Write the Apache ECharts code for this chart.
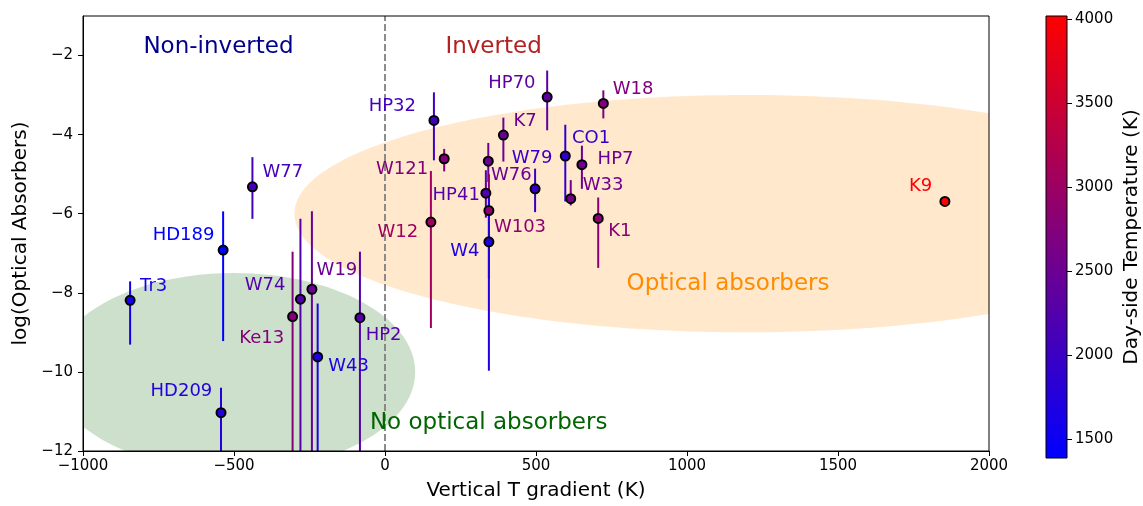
<!DOCTYPE html>
<html>
<head>
<meta charset="utf-8">
<script src="https://cdn.jsdelivr.net/npm/echarts@6/dist/echarts.min.js"></script>
<style>
html,body{margin:0;padding:0;background:#fff;}
#chart{width:1143px;height:506px;}
</style>
</head>
<body>
<div id="chart"></div>
<script>
// ---- data ----
const planetNames = ['Tr3','HD189','HD209','W77','W74','W19','Ke13','W43','HP2','HP32','W121','W12','K7','HP70','W18','W76','HP41','W103','W4','W79','CO1','HP7','W33','K1','K9'];
const tGradient   = [-844,-536,-543,-439,-280,-242,-306,-223,-83,162,196,152,392,537,723,342,334,344,344,497,597,652,615,706,1854];
const logAbsorb   = [-8.19,-6.92,-11.03,-5.32,-8.16,-7.91,-8.60,-9.62,-8.63,-3.64,-4.61,-6.21,-4.01,-3.05,-3.21,-4.67,-5.48,-5.92,-6.71,-5.37,-4.54,-4.76,-5.62,-6.12,-5.69];
const errLower    = [-9.31,-9.22,-12.6,-6.13,-13,-13,-13,-13,-13,-4.65,-4.93,-8.89,-4.68,-3.89,-3.59,-5.20,-6.10,-7.64,-9.97,-5.96,-5.69,-5.37,-5.79,-7.37,-5.69];
const errUpper    = [-7.71,-5.94,-10.40,-4.57,-6.13,-5.94,-6.96,-8.27,-6.96,-2.93,-4.36,-4.92,-3.57,-2.38,-2.88,-4.21,-4.90,-5.00,-5.60,-4.86,-3.75,-4.28,-5.15,-5.59,-5.69];
const dayTemp     = [1600,1387,1750,2100,2250,2500,2750,1700,2250,2050,2750,3050,2500,2360,2720,2500,2250,2850,1700,1950,1900,2500,2560,2820,4018];

const regionTexts = ['Non-inverted','Inverted','No optical absorbers','Optical absorbers'];
const regionX     = [-800, 200, -50, 800];
const regionY     = [-2, -2, -11.5, -8];

const regionNames = ['Optical absorbers region','No optical absorbers region'];
const ellipseCX   = [1200, -500];
const ellipseCY   = [-6, -10];
const ellipseW    = [3000, 1200];
const ellipseH    = [6, 5];

const zeroLineX = [0];

const xTicks = [-1000, -500, 0, 500, 1000, 1500, 2000];
const yTicks = [-12, -10, -8, -6, -4, -2];
const cbTicks = [1500, 2000, 2500, 3000, 3500, 4000];

// ---- styling / layout (not data) ----
const FONT = 'DejaVu Sans, sans-serif';
const regionColors = ['#00008b', '#b22222', '#006400', '#ff8c00'];
const ellipseFill = ['rgba(255,140,0,0.2)', 'rgba(0,100,0,0.2)'];
// label placement: [align, dx, dy]
const labelPlace = {
  Tr3:['left',10,-14.4], HD189:['right',-8.7,-14.7], HD209:['right',-8.7,-21.7],
  W77:['left',10,-14.1], W74:['right',-15,-13.7], W19:['left',4.7,-18.7],
  Ke13:['right',-8.4,21.9], W43:['left',10.6,9.6], HP2:['left',5.7,17.9],
  HP32:['right',-18,-14.1], W121:['right',-16,10.2], W12:['right',-12.7,9.9],
  K7:['left',10,-14.1], HP70:['right',-11.6,-13.7], W18:['left',9.4,-13.8],
  W76:['left',2.7,14.6], HP41:['right',-6,1.9], W103:['left',5,17],
  W4:['right',-9.4,9.3], W79:['center',-3,-30.1], CO1:['left',6.7,-18.1],
  HP7:['left',15.7,-5.8], W33:['left',12,-13.7], K1:['left',10,13],
  K9:['right',-12.7,-14.7]
};

const tMin = Math.min.apply(null, dayTemp);
const tMax = Math.max.apply(null, dayTemp);
const minus = v => String(v).replace('-', '\u2212');

const scatterData = planetNames.map((n, i) => {
  const p = labelPlace[n];
  return {
    name: n,
    value: [tGradient[i], logAbsorb[i], dayTemp[i]],
    label: { align: p[0], offset: [p[1], p[2]] }
  };
});
const errData = planetNames.map((n, i) => [tGradient[i], logAbsorb[i], dayTemp[i], errLower[i], errUpper[i]]);
const ellipseData = regionNames.map((n, i) => [ellipseCX[i], ellipseCY[i], ellipseW[i], ellipseH[i]]);
const textData = regionTexts.map((t, i) => [regionX[i], regionY[i]]);

const chart = echarts.init(document.getElementById('chart'), null, { renderer: 'canvas' });
chart.setOption({
  animation: false,
  backgroundColor: '#fff',
  textStyle: { fontFamily: FONT },
  grid: [
    { left: 83, top: 16, width: 906, height: 442, show: true, borderColor: '#000', borderWidth: 1, backgroundColor: 'transparent', z: 3 },
    { left: 1046, top: 16, width: 22, height: 442, show: true, borderColor: '#000', borderWidth: 1,
      backgroundColor: { type: 'linear', x: 0, y: 1, x2: 0, y2: 0,
        colorStops: [{ offset: 0, color: '#0000ff' }, { offset: 1, color: '#ff0000' }] } }
  ],
  xAxis: [
    { type: 'value', gridIndex: 0, min: xTicks[0], max: xTicks[xTicks.length - 1], interval: 500,
      name: 'Vertical T gradient (K)', nameLocation: 'middle', nameGap: 30,
      nameTextStyle: { fontSize: 20, color: '#000', fontFamily: FONT },
      axisLine: { show: true, onZero: false, lineStyle: { color: '#000', width: 1 } },
      axisTick: { show: true, length: 5, lineStyle: { color: '#000', width: 1 } },
      axisLabel: { fontSize: 15, color: '#000', margin: 8, fontFamily: FONT, formatter: v => minus(v) },
      splitLine: { show: false } },
    { type: 'value', gridIndex: 1, min: 0, max: 1, show: false }
  ],
  yAxis: [
    { type: 'value', gridIndex: 0, min: yTicks[0], max: -1, interval: 2,
      name: 'log(Optical Absorbers)', nameLocation: 'middle', nameGap: 50,
      nameTextStyle: { fontSize: 20, color: '#000', fontFamily: FONT },
      axisLine: { show: true, onZero: false, lineStyle: { color: '#000', width: 1 } },
      axisTick: { show: true, length: 5, lineStyle: { color: '#000', width: 1 } },
      axisLabel: { fontSize: 15, color: '#000', margin: 10, fontFamily: FONT, showMaxLabel: false, formatter: v => minus(v) },
      splitLine: { show: false } },
    { type: 'value', gridIndex: 1, position: 'right', min: tMin, max: tMax,
      name: 'Day-side Temperature (K)', nameLocation: 'middle', nameGap: 55, nameRotate: 90,
      nameTextStyle: { fontSize: 20, color: '#000', fontFamily: FONT },
      axisLine: { show: false, onZero: false },
      axisTick: { show: true, length: 5, customValues: cbTicks, lineStyle: { color: '#000', width: 1 } },
      axisLabel: { fontSize: 15, color: '#000', margin: 8, fontFamily: FONT, customValues: cbTicks, formatter: v => String(v) },
      splitLine: { show: false } }
  ],
  visualMap: {
    show: false, type: 'continuous', min: tMin, max: tMax, dimension: 2,
    seriesIndex: [2, 3], inRange: { color: ['#0000ff', '#ff0000'] }
  },
  series: [
    { // shaded regions
      type: 'custom', xAxisIndex: 0, yAxisIndex: 0, clip: true, silent: true, z: 1,
      data: ellipseData,
      renderItem: function (params, api) {
        const c = api.coord([api.value(0), api.value(1)]);
        const e = api.coord([api.value(0) + api.value(2) / 2, api.value(1) + api.value(3) / 2]);
        return { type: 'ellipse', shape: { cx: c[0], cy: c[1], rx: Math.abs(e[0] - c[0]), ry: Math.abs(c[1] - e[1]) },
                 style: { fill: ellipseFill[params.dataIndex], stroke: null } };
      }
    },
    { // vertical dashed line at zero gradient
      type: 'custom', xAxisIndex: 0, yAxisIndex: 0, clip: true, silent: true, z: 1.5,
      data: zeroLineX.map(v => [v]),
      renderItem: function (params, api) {
        const a = api.coord([api.value(0), yTicks[0]]);
        const b = api.coord([api.value(0), -1]);
        return { type: 'line', shape: { x1: a[0], y1: a[1], x2: b[0], y2: b[1] },
                 style: { stroke: '#808080', lineWidth: 1.8, lineDash: [7, 3] } };
      }
    },
    { // error bars
      type: 'custom', xAxisIndex: 0, yAxisIndex: 0, clip: true, silent: true, z: 2,
      data: errData,
      encode: { x: 0, y: 1 },
      renderItem: function (params, api) {
        const a = api.coord([api.value(0), api.value(3)]);
        const b = api.coord([api.value(0), api.value(4)]);
        return { type: 'line', shape: { x1: a[0], y1: a[1], x2: b[0], y2: b[1] },
                 style: { stroke: api.visual('color'), lineWidth: 2 } };
      }
    },
    { // planets
      type: 'scatter', xAxisIndex: 0, yAxisIndex: 0, z: 3,
      symbolSize: 9,
      itemStyle: { borderColor: '#000', borderWidth: 2, opacity: 1 },
      label: { show: true, position: 'inside', formatter: '{b}', color: 'inherit',
               fontSize: 18, fontFamily: FONT, verticalAlign: 'middle' },
      emphasis: { disabled: true },
      data: scatterData
    },
    { // region annotations
      type: 'custom', xAxisIndex: 0, yAxisIndex: 0, silent: true, z: 4,
      data: textData,
      renderItem: function (params, api) {
        const p = api.coord([api.value(0), api.value(1)]);
        return { type: 'text', x: p[0], y: p[1] - 8.4,
                 style: { text: regionTexts[params.dataIndex], fill: regionColors[params.dataIndex],
                          fontSize: 23, fontFamily: FONT, align: 'left', verticalAlign: 'middle' } };
      }
    }
  ]
});
</script>
</body>
</html>
